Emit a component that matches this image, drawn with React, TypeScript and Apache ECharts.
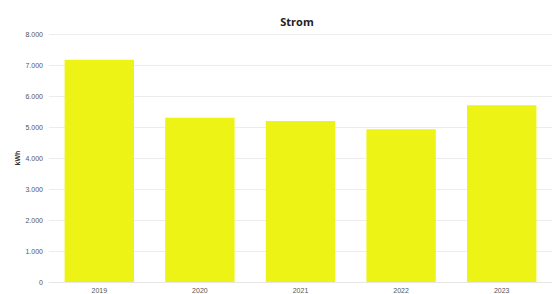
import React, { useEffect, useRef } from "react";
import * as echarts from "echarts";

const categories = ["2019", "2020", "2021", "2022", "2023"];
const values = [7170, 5300, 5190, 4930, 5700];
const title = "Strom";
const yName = "kWh";

function fmt(v: number): string {
  return String(v).replace(/\B(?=(\d{3})+(?!\d))/g, ".");
}

export default function App() {
  const ref = useRef<HTMLDivElement>(null);
  useEffect(() => {
    if (!ref.current) return;
    const chart = echarts.init(ref.current, null, { renderer: "svg" });
    chart.setOption({
      animation: false,
      title: {
        text: title,
        left: 292,
        top: 11,
        textAlign: "center",
        textStyle: { fontSize: 11, fontWeight: "bold", color: "#222", fontFamily: "Open Sans" },
      },
      grid: { left: 49, right: -2, top: 34, bottom: 10, containLabel: false },
      xAxis: {
        type: "category",
        data: categories,
        axisLine: { lineStyle: { color: "#e6e6e6" } },
        axisTick: { show: false },
        axisLabel: { color: "#555", fontSize: 7, margin: 5, fontFamily: "Liberation Sans" },
      },
      yAxis: {
        type: "value",
        min: 0,
        max: 8000,
        interval: 1000,
        name: yName,
        nameLocation: "middle",
        nameGap: 28,
        nameMoveOverlap: false,
        nameRotate: 90,
        nameTextStyle: { fontSize: 7, fontWeight: "bold", color: "#333", fontFamily: "Liberation Sans" },
        axisLabel: {
          color: "#555",
          fontSize: 7,
          margin: 6,
          fontFamily: "Liberation Sans",
          formatter: (v: number) => fmt(v),
        },
        splitLine: { lineStyle: { color: "#ececec" } },
      },
      series: [
        {
          type: "bar",
          data: values,
          barWidth: "69%",
          itemStyle: { color: "#eef316" },
        },
      ],
    });
    return () => chart.dispose();
  }, []);
  return <div ref={ref} style={{ width: 552, height: 294, position: "absolute", left: 0, top: 0 }} />;
}
